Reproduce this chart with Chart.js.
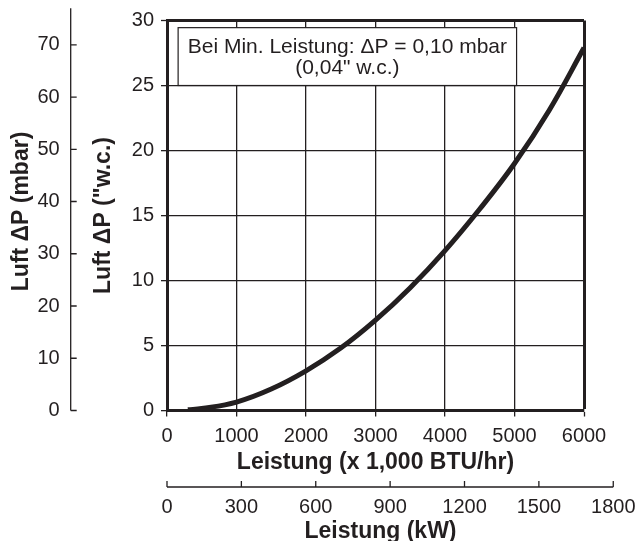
<!DOCTYPE html>
<html>
<head>
<meta charset="utf-8">
<script src="https://cdn.jsdelivr.net/npm/chart.js@4"></script>
<style>
  html, body { margin: 0; padding: 0; background: #fff; }
</style>
</head>
<body>
<canvas id="chart" width="642" height="541"></canvas>
<script>
// values
const leistung = [300, 500, 1000, 1500, 2000, 2500, 3000, 3500, 4000, 4500, 5000, 5500, 6000]; // x 1,000 BTU/hr
const druckWc = [0.05, 0.15, 0.65, 1.65, 3.05, 4.8, 6.95, 9.45, 12.3, 15.5, 19.0, 23.1, 27.9]; // "w.c.
const kwTicks = [0, 300, 600, 900, 1200, 1500, 1800];
const mbarTicks = [0, 10, 20, 30, 40, 50, 60, 70];
const hinweis = ['Bei Min. Leistung: \u0394P = 0,10 mbar', '(0,04" w.c.)'];

const ink = '#231f20';
const fam = "'Liberation Sans', Arial, Helvetica, sans-serif";
Chart.defaults.font.family = fam;
Chart.defaults.color = ink;

// white note box with the minimum-load value
const notePlugin = {
  id: 'note',
  beforeDatasetsDraw(chart) {
    const { ctx, scales: { x, y } } = chart;
    const l = x.getPixelForValue(160), r = x.getPixelForValue(5030);
    const t = y.getPixelForValue(29.45), b = y.getPixelForValue(25);
    ctx.save();
    ctx.fillStyle = '#fff';
    ctx.fillRect(l, t, r - l, b - t);
    ctx.strokeStyle = ink;
    ctx.lineWidth = 1.2;
    ctx.strokeRect(l, t, r - l, b - t);
    ctx.fillStyle = ink;
    ctx.font = '21px ' + fam;
    ctx.textAlign = 'center';
    ctx.textBaseline = 'middle';
    ctx.fillText(hinweis[0], (l + r) / 2, t + 0.33 * (b - t));
    ctx.fillText(hinweis[1], (l + r) / 2, t + 0.70 * (b - t));
    ctx.restore();
  }
};

// extra axes: mbar on the far left, kW below
const extraAxes = {
  id: 'extraAxes',
  afterDraw(chart) {
    const { ctx, chartArea: ca, scales: { kw, mbar } } = chart;
    ctx.save();
    ctx.strokeStyle = ink;
    ctx.fillStyle = ink;
    ctx.lineWidth = 1.3;

    // mbar axis
    const ax = ca.left - 96.3;
    ctx.beginPath();
    ctx.moveTo(ax, mbar.getPixelForValue(0));
    ctx.lineTo(ax, mbar.getPixelForValue(77));
    mbarTicks.forEach(v => {
      const py = mbar.getPixelForValue(v);
      ctx.moveTo(ax, py);
      ctx.lineTo(ax + 6, py);
    });
    ctx.stroke();
    ctx.font = '20px ' + fam;
    ctx.textAlign = 'right';
    ctx.textBaseline = 'middle';
    mbarTicks.forEach(v => ctx.fillText(String(v), ax - 11, mbar.getPixelForValue(v)));
    ctx.save();
    ctx.translate(ca.left - 145, (ca.top + ca.bottom) / 2 - 4);
    ctx.rotate(-Math.PI / 2);
    ctx.font = 'bold 23px ' + fam;
    ctx.textAlign = 'center';
    ctx.fillText('Luft \u0394P (mbar)', 0, 0);
    ctx.restore();

    // kW axis
    const ay = ca.bottom + 76.5;
    ctx.beginPath();
    ctx.moveTo(kw.getPixelForValue(0), ay);
    ctx.lineTo(kw.getPixelForValue(1800), ay);
    kwTicks.forEach(v => {
      const px = kw.getPixelForValue(v);
      ctx.moveTo(px, ay);
      ctx.lineTo(px, ay - 6);
    });
    ctx.stroke();
    ctx.textAlign = 'center';
    kwTicks.forEach(v => ctx.fillText(String(v), kw.getPixelForValue(v), ay + 20));
    ctx.font = 'bold 23px ' + fam;
    ctx.fillText('Leistung (kW)', (ca.left + ca.right) / 2 + 5, ay + 45);
    ctx.restore();
  }
};

const edge = (v, last) => v === last ? 3 : 1.3;

new Chart(document.getElementById('chart'), {
  type: 'line',
  data: {
    datasets: [{
      data: leistung.map((q, i) => ({ x: q, y: druckWc[i] })),
      borderColor: ink,
      borderWidth: 5,
      pointRadius: 0,
      tension: 0.4,
      fill: false
    }]
  },
  options: {
    responsive: false,
    animation: false,
    devicePixelRatio: 1,
    layout: { padding: { left: 90, right: 58, top: 20.5, bottom: 65 } },
    plugins: { legend: { display: false }, tooltip: { enabled: false } },
    scales: {
      x: {
        type: 'linear', min: 0, max: 6000,
        afterFit(s) { s.height = 65.5; },
        ticks: { stepSize: 1000, maxRotation: 0, autoSkip: false, padding: 8, font: { size: 20 }, color: ink, callback: v => String(v) },
        grid: { color: ink, lineWidth: c => edge(c.tick && c.tick.value, 6000), tickLength: 6, tickWidth: 1.3 },
        border: { display: true, color: ink, width: 3 },
        title: { display: true, text: 'Leistung (x 1,000 BTU/hr)', font: { size: 23, weight: 'bold' }, padding: 0, color: ink }
      },
      y: {
        type: 'linear', min: 0, max: 30,
        afterFit(s) { s.width = 77; },
        ticks: { stepSize: 5, padding: 7, font: { size: 20 }, color: ink },
        grid: { color: ink, lineWidth: c => edge(c.tick && c.tick.value, 30), tickLength: 6, tickWidth: 1.3 },
        border: { display: true, color: ink, width: 3 },
        title: { display: true, text: 'Luft \u0394P ("w.c.)', font: { size: 23, weight: 'bold' }, padding: 0, color: ink }
      },
      kw: { type: 'linear', axis: 'x', position: 'bottom', display: false, min: 0, max: 1682 },
      mbar: { type: 'linear', axis: 'y', position: 'left', display: false, min: 0, max: 74.65 }
    }
  },
  plugins: [notePlugin, extraAxes]
});
</script>
</body>
</html>
